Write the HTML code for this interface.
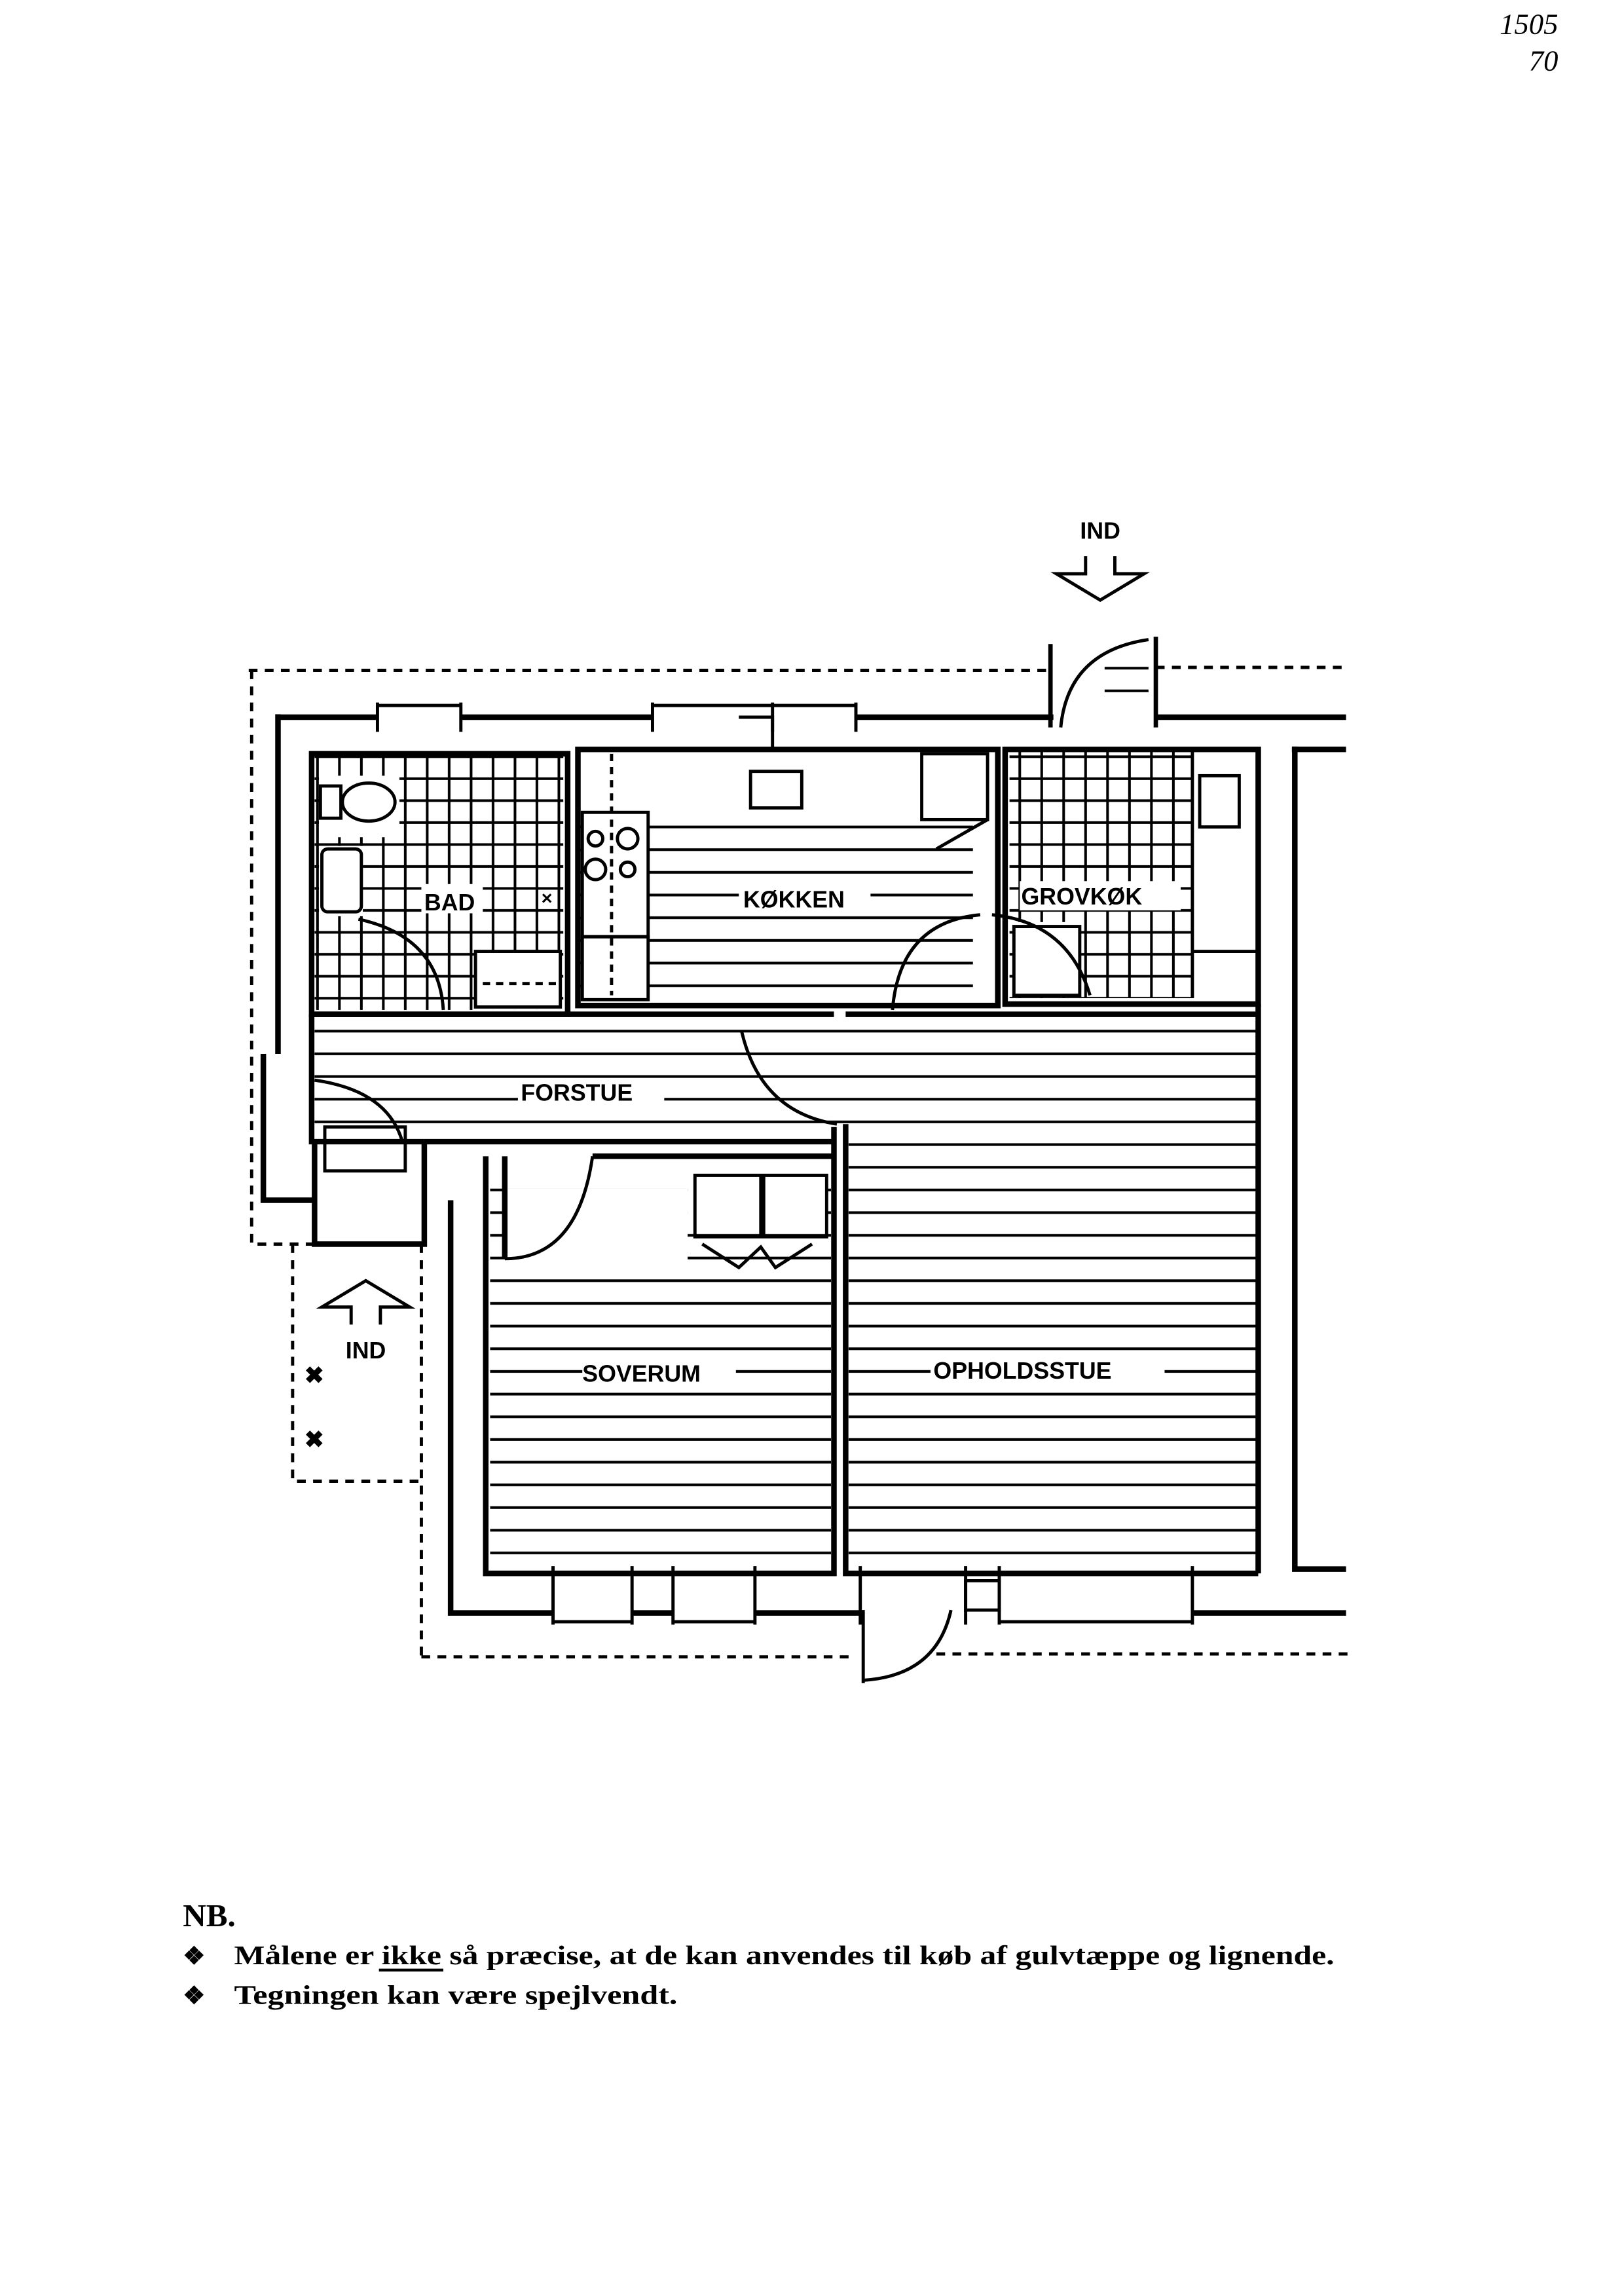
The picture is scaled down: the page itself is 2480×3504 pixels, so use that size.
<!DOCTYPE html>
<html><head><meta charset="utf-8"><style>
html,body{margin:0;padding:0;background:#fff}
svg{display:block}
</style></head><body>
<svg width="2480" height="3504" viewBox="0 0 1110 1568" preserveAspectRatio="none" xmlns="http://www.w3.org/2000/svg">
<defs>
<pattern id="hz" patternUnits="userSpaceOnUse" width="20" height="15.5"><line x1="0" y1="7" x2="20" y2="7" stroke="#000" stroke-width="1.8"/></pattern>
<pattern id="tile" patternUnits="userSpaceOnUse" width="15" height="15"><path d="M0 7H15M7 0V15" stroke="#000" stroke-width="1.8" fill="none"/></pattern>
</defs>
<rect width="1110" height="1568" fill="#fff"/>
<g fill="none" stroke="#000">
<g stroke-width="2.2" stroke-dasharray="6 5">
<path d="M170 458H720M790 456H920"/>
<path d="M172 458V850H290"/>
<path d="M200 850V1012H290"/>
<path d="M288 850V1135"/>
<path d="M288 1132H585M640 1130H922"/>
</g>
<rect x="395" y="555" width="270" height="130" fill="url(#hz)" stroke="none"/>
<rect x="215" y="695" width="645" height="85" fill="url(#hz)" stroke="none"/>
<rect x="335" y="810" width="233" height="262" fill="url(#hz)" stroke="none"/>
<rect x="580" y="770" width="280" height="302" fill="url(#hz)" stroke="none"/>
<rect x="215" y="515" width="170" height="175" fill="url(#tile)" stroke="none"/>
<rect x="690" y="512" width="125" height="170" fill="url(#tile)" stroke="none"/>
</g>
<g fill="#fff" stroke="none">
<rect x="345" y="812" width="125" height="50"/>
<rect x="470" y="802" width="95" height="40"/>
<rect x="218" y="578" width="30" height="48"/>
<rect x="218" y="530" width="55" height="42"/>
<rect x="325" y="650" width="58" height="40"/>
<rect x="398" y="515" width="265" height="40"/>
<rect x="398" y="555" width="45" height="130"/>
<rect x="693" y="630" width="45" height="50"/>
<rect x="815" y="512" width="45" height="170"/>
<rect x="288" y="604" width="42" height="20"/>
<rect x="505" y="604" width="90" height="20"/>
<rect x="697" y="602" width="110" height="20"/>
<rect x="354" y="737" width="100" height="18"/>
<rect x="398" y="928" width="105" height="19"/>
<rect x="636" y="926" width="160" height="19"/>
</g>
<g fill="none" stroke="#000" stroke-width="3.8">
<path d="M190 490H258M315 490H446M585 490H720M790 490H920"/>
<path d="M190 488V720"/>
<path d="M883 512H920M885 510V1072H920"/>
<path d="M308 820V1102H378M432 1102H460M516 1102H588M815 1102H920"/>
<path d="M180 720V820H215"/>
<path d="M215 780V850H290V780"/>
<rect x="213" y="515" width="175" height="178"/>
<rect x="395" y="512" width="287" height="175"/>
<rect x="687" y="512" width="173" height="174"/>
<path d="M213 693V780H290"/>
<path d="M860 686V1075"/>
<path d="M213 693H570M578 693H860"/>
<path d="M290 780H570"/>
<path d="M332 790V1075H570V770"/>
<path d="M578 768V1075H860"/>
<path d="M345 790V860M405 790H570"/>
<path d="M718 440V497M790 435V497" stroke-width="3"/>
</g>
<g fill="none" stroke="#000" stroke-width="2.2">
<path d="M258 480V500M315 480V500M446 480V500M528 480V500M585 480V500" />
<path d="M258 482H315M446 482H585M505 490H528V512H505"/>
<path d="M378 1070V1110M432 1070V1110M460 1070V1110M516 1070V1110M588 1070V1110M660 1070V1110M683 1070V1110M815 1070V1110"/>
<path d="M378 1108H432M460 1108H516M683 1108H815M660 1080H683V1100H660Z"/>
<rect x="513" y="527" width="35" height="25"/>
<rect x="630" y="515" width="45" height="45"/>
<rect x="398" y="555" width="45" height="85"/>
<rect x="398" y="640" width="45" height="43"/>
<circle cx="407" cy="573" r="5"/><circle cx="429" cy="573" r="7"/><circle cx="407" cy="594" r="7"/><circle cx="429" cy="594" r="5"/>
<path d="M418 515V680" stroke-dasharray="5 4"/>
<ellipse cx="252" cy="548" rx="18" ry="13"/>
<rect x="219" y="537" width="14" height="22"/>
<rect x="220" y="580" width="27" height="43" rx="4"/>
<rect x="325" y="650" width="58" height="38"/>
<path d="M330 672H380" stroke-dasharray="5 4"/>
<rect x="693" y="633" width="45" height="47"/>
<rect x="820" y="530" width="27" height="35"/>
<path d="M815 512V682M815 650H860"/>
<rect x="475" y="803" width="45" height="42"/><rect x="522" y="803" width="43" height="42"/>
<rect x="222" y="770" width="55" height="30"/>
<path d="M245 628Q300 640 303 690"/>
<path d="M215 738Q265 745 275 780"/>
<path d="M345 860Q395 860 405 790"/>
<path d="M507 705Q520 760 572 768"/>
<path d="M610 690Q615 630 670 625"/>
<path d="M678 625Q730 630 745 680"/>
<path d="M675 560L640 580"/>
<path d="M725 497Q730 445 785 437"/>
<path d="M590 1100V1150M590 1148Q640 1145 650 1100"/>
<path d="M480 850L505 866L520 852L530 866L555 850"/>
<path d="M742 380V392H722L752 410L782 392H762V380"/>
<path d="M240 905V893H220L250 875L280 893H260V905"/>
</g>
<rect x="755" y="445" width="30" height="35" fill="url(#hz)"/>
<g font-family="Liberation Sans, sans-serif" font-weight="bold" font-size="16" fill="#000">
<text x="752" y="368" text-anchor="middle">IND</text>
<text x="250" y="928" text-anchor="middle">IND</text>
<text x="290" y="622">BAD</text>
<text x="370" y="618" font-size="13">×</text>
<text x="508" y="620">KØKKEN</text>
<text x="698" y="618">GROVKØK</text>
<text x="356" y="752">FORSTUE</text>
<text x="398" y="944">SOVERUM</text>
<text x="638" y="942">OPHOLDSSTUE</text>
<text x="208" y="945">✖</text>
<text x="208" y="989">✖</text>
</g>
<g font-family="Liberation Serif, serif" font-weight="bold" fill="#000">
<text x="125" y="1316" font-size="22">NB.</text>
<text x="125" y="1342" font-size="17">❖</text>
<text x="160" y="1342" font-size="18.5" textLength="752" lengthAdjust="spacingAndGlyphs">Målene er ikke så præcise, at de kan anvendes til køb af gulvtæppe og lignende.</text>
<rect x="259" y="1345" width="44" height="2"/>
<text x="125" y="1369" font-size="17">❖</text>
<text x="160" y="1369" font-size="18.5" textLength="303" lengthAdjust="spacingAndGlyphs">Tegningen kan være spejlvendt.</text>
</g>
<g font-family="Liberation Serif, serif" font-style="italic" fill="#000">
<text x="1025" y="23" font-size="20">1505</text>
<text x="1045" y="48" font-size="20">70</text>
</g>
</svg>
</body></html>
